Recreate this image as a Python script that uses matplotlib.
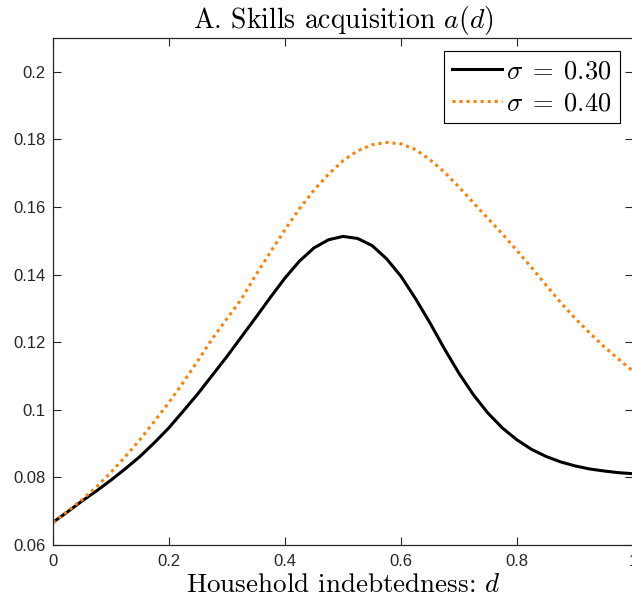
import numpy as np
import matplotlib
matplotlib.use('Agg')
from matplotlib import pyplot as plt

# debt grid and skills acquisition for the two sigma values
debt = [0.000, 0.025, 0.050, 0.075, 0.100, 0.125, 0.150, 0.175, 0.200, 0.225,
        0.250, 0.275, 0.300, 0.325, 0.350, 0.375, 0.400, 0.425, 0.450, 0.475,
        0.500, 0.525, 0.550, 0.575, 0.600, 0.625, 0.650, 0.675, 0.700, 0.725,
        0.750, 0.775, 0.800, 0.825, 0.850, 0.875, 0.900, 0.925, 0.950, 0.975, 1.000]
skills_030 = [0.0667, 0.0698, 0.0730, 0.0760, 0.0792, 0.0826, 0.0862, 0.0903, 0.0947, 0.0997,
              0.1048, 0.1103, 0.1158, 0.1216, 0.1274, 0.1333, 0.1390, 0.1440, 0.1479, 0.1503,
              0.1513, 0.1507, 0.1486, 0.1447, 0.1395, 0.1329, 0.1257, 0.1180, 0.1108, 0.1044,
              0.0990, 0.0946, 0.0911, 0.0883, 0.0862, 0.0846, 0.0834, 0.0825, 0.0819, 0.0814, 0.0811]
skills_040 = [0.0667, 0.0700, 0.0734, 0.0772, 0.0815, 0.0862, 0.0912, 0.0966, 0.1022, 0.1082,
              0.1146, 0.1211, 0.1270, 0.1328, 0.1400, 0.1467, 0.1533, 0.1595, 0.1650, 0.1697,
              0.1737, 0.1766, 0.1784, 0.1791, 0.1787, 0.1770, 0.1740, 0.1703, 0.1659, 0.1612,
              0.1566, 0.1520, 0.1471, 0.1421, 0.1369, 0.1318, 0.1271, 0.1228, 0.1187, 0.1150, 0.1114]

x_ticks = [0, 0.2, 0.4, 0.6, 0.8, 1]
x_tick_labels = ['0', '0.2', '0.4', '0.6', '0.8', '1']
y_ticks = [0.06, 0.08, 0.1, 0.12, 0.14, 0.16, 0.18, 0.2]
y_tick_labels = ['0.06', '0.08', '0.1', '0.12', '0.14', '0.16', '0.18', '0.2']

plt.rcParams['mathtext.fontset'] = 'cm'
plt.rcParams['font.family'] = ['Liberation Sans', 'DejaVu Sans']
axis_grey = '#262626'

fig = plt.figure(figsize=(6.32, 6.09), dpi=100)
ax = fig.add_axes([53 / 632, 64 / 609, 580 / 632, 507 / 609])

ax.plot(debt, skills_030, color='black', linewidth=2.2, label=r'$\sigma\;=\;0.30$')
ax.plot(debt, skills_040, color='#ff8000', linewidth=2.2, dashes=(1.0, 1.3),
        label=r'$\sigma\;=\;0.40$')

ax.set_xlim(0, 1)
ax.set_ylim(0.06, 0.21)
ax.set_xticks(x_ticks)
ax.set_xticklabels(x_tick_labels)
ax.set_yticks(y_ticks)
ax.set_yticklabels(y_tick_labels)
ax.tick_params(direction='in', length=6, width=0.8, colors=axis_grey, labelsize=12,
               top=True, right=True)
ax.tick_params(axis='x', pad=6.5)
ax.tick_params(axis='y', pad=5.5)
for side in ax.spines.values():
    side.set_color(axis_grey)
    side.set_linewidth(0.9)

ax.set_title(r'A. Skills acquisition $a(d)$', fontfamily='cmr10', fontsize=20, pad=7)
ax.set_xlabel(r'Household indebtedness: $d$', fontfamily='cmr10', fontsize=19.5, labelpad=3)

leg = ax.legend(loc='upper right', fontsize=19, fancybox=False, framealpha=1,
                edgecolor='black', handlelength=1.9, handletextpad=0.15,
                borderpad=0.3, labelspacing=0.3, borderaxespad=0.5)
leg.get_frame().set_linewidth(0.8)

plt.savefig('out.png', dpi=100)
